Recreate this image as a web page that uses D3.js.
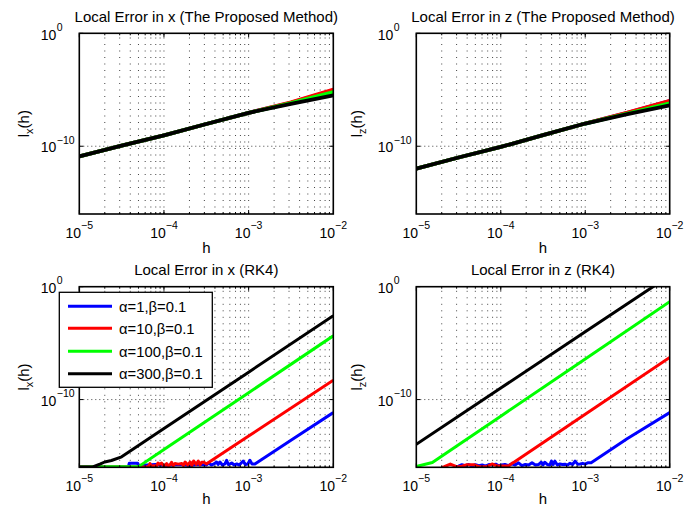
<!DOCTYPE html>
<html><head><meta charset="utf-8">
<script src="https://cdn.jsdelivr.net/npm/d3@7"></script>
<style>
body{margin:0;background:#fff}
svg{display:block}
text{font-family:"Liberation Sans",Arial,Helvetica,sans-serif;fill:#000}
</style>
</head><body>
<svg id="chart" width="686" height="508"></svg>
<script>
// ---------------- DATA (values are log10 exponents) ----------------
const legendLabels = ["α=1,β=0.1", "α=10,β=0.1", "α=100,β=0.1", "α=300,β=0.1"];
const seriesColors = ["#0000ff", "#ff0000", "#00ff00", "#000000"];
const xTickExps = [-5, -4, -3, -2];
const yTickExps = [0, -10];
const panelTitles = ["Local Error in x (The Proposed Method)", "Local Error in z (The Proposed Method)",
                     "Local Error in x (RK4)", "Local Error in z (RK4)"];
const panelYSub = ["x", "z", "x", "z"];

// Proposed method, x (top-left)
const pxH     = [-5, -4.5, -4, -3.5, -3, -2.5, -2];
const pxBlue  = [-10.89, -9.95, -9.03, -8.03, -7.04, -6.15, -5.05];
const pxRed   = [-10.89, -9.95, -9.03, -8.03, -7.04, -6.12, -4.98];
const pxGreen = [-10.89, -9.95, -9.03, -8.03, -7.04, -6.18, -5.2];
const pxBlack = [-10.89, -9.95, -9.03, -8.03, -7.04, -6.25, -5.5];

// Proposed method, z (top-right)
const pzH     = [-5, -4.5, -4, -3.5, -3, -2.5, -2];
const pzBlue  = [-11.98, -11.0, -10.06, -9.02, -7.99, -7.05, -6.0];
const pzRed   = [-11.98, -11.0, -10.06, -9.02, -7.99, -7.03, -5.98];
const pzGreen = [-11.98, -11.0, -10.06, -9.02, -7.99, -7.1, -6.21];
const pzBlack = [-11.98, -11.0, -10.06, -9.02, -7.99, -7.15, -6.39];

// RK4, x (bottom-left)
const rxBlueH = [-5, -4.42, -4.41, -4.31, -4.30, -4.2, -4.1, -4.0, -3.9, -3.8, -3.7, -3.6, -3.5, -3.47, -3.44, -3.41, -3.378, -3.36, -3.339, -3.31, -3.28, -3.26, -3.24, -3.22, -3.2, -3.17, -3.14, -3.11, -3.085, -3.064, -3.04, -3.01, -2.985, -2.96, -2.926, -2.5, -2.0];
const rxBlue  = [-15.97, -15.97, -15.65, -15.65, -15.85, -15.8, -15.75, -15.85, -15.8, -15.75, -15.85, -15.75, -15.8, -15.6, -15.8, -15.7, -15.53, -15.75, -15.53, -15.8, -15.7, -15.38, -15.75, -15.7, -15.62, -15.8, -15.7, -15.8, -15.6, -15.44, -15.75, -15.7, -15.38, -15.7, -15.7, -13.6, -11.15];
const rxRedH  = [-5, -4.2, -4.18, -4.165, -4.15, -4.12, -4.09, -4.07, -4.05, -4.03, -4.0, -3.985, -3.968, -3.95, -3.93, -3.91, -3.89, -3.87, -3.83, -3.79, -3.77, -3.75, -3.72, -3.69, -3.67, -3.65, -3.62, -3.595, -3.575, -3.555, -3.525, -3.5, -3.0, -2.0];
const rxRed   = [-15.97, -15.97, -15.9, -15.67, -15.9, -15.85, -15.9, -15.62, -15.75, -15.62, -15.9, -15.8, -15.67, -15.88, -15.8, -15.56, -15.85, -15.67, -15.72, -15.67, -15.85, -15.53, -15.8, -15.53, -15.85, -15.44, -15.75, -15.44, -15.8, -15.56, -15.56, -15.7, -13.23, -8.28];
const rxGreenH = [-5, -4.3, -4.0, -3.0, -2.0];
const rxGreen  = [-15.97, -15.94, -14.43, -9.39, -4.35];
const rxBlackH = [-5, -4.84, -4.75, -4.70, -4.62, -4.5, -4.0, -3.0, -2.0];
const rxBlack  = [-15.97, -15.97, -15.7, -15.53, -15.4, -15.07, -12.57, -7.57, -2.57];

// RK4, z (bottom-right)
const rzBlueH = [-4.54, -4.5, -4.46, -4.42, -4.38, -4.34, -4.3, -4.26, -4.22, -4.18, -4.14, -4.1, -4.06, -4.03, -3.99, -3.95, -3.91, -3.87, -3.83, -3.79, -3.75, -3.71, -3.67, -3.63, -3.59, -3.55, -3.52, -3.5, -3.48, -3.45, -3.42, -3.4, -3.38, -3.36, -3.33, -3.3, -3.27, -3.24, -3.21, -3.18, -3.15, -3.12, -3.09, -3.06, -3.03, -3.0, -2.97, -2.93, -2.5, -2.0];
const rzBlue  = [-15.97, -15.9, -15.77, -15.85, -15.75, -15.9, -15.77, -15.85, -15.8, -15.9, -15.75, -15.8, -15.72, -15.85, -15.8, -15.75, -15.85, -15.7, -15.8, -15.6, -15.85, -15.75, -15.8, -15.6, -15.8, -15.75, -15.55, -15.8, -15.55, -15.75, -15.8, -15.45, -15.75, -15.45, -15.8, -15.7, -15.75, -15.72, -15.8, -15.65, -15.75, -15.45, -15.72, -15.7, -15.65, -15.72, -15.6, -15.6, -13.45, -11.15];
const rzRedH  = [-4.70, -4.675, -4.597, -4.518, -4.459, -4.4, -4.32, -4.261, -4.163, -4.104, -4.044, -3.906, -3.867, -3.835, -3.0, -2.0];
const rzRed   = [-16.0, -15.97, -15.71, -15.97, -15.9, -15.77, -15.77, -15.95, -15.93, -15.71, -15.88, -15.88, -15.65, -15.5, -11.29, -6.27];
const rzGreenH = [-5, -4.81, -4.0, -3.0, -2.0];
const rzGreen  = [-15.93, -15.58, -11.47, -6.40, -1.33];
const rzBlackH = [-5, -4.0, -3.0, -2.0];
const rzBlack  = [-13.96, -8.98, -4.0, 0.98];

// ---------------- BUILD ----------------
const zip = (h, v) => h.map((d, i) => [d, v[i]]);
const panelSeries = [
  [zip(pxH, pxBlue), zip(pxH, pxRed), zip(pxH, pxGreen), zip(pxH, pxBlack)],
  [zip(pzH, pzBlue), zip(pzH, pzRed), zip(pzH, pzGreen), zip(pzH, pzBlack)],
  [zip(rxBlueH, rxBlue), zip(rxRedH, rxRed), zip(rxGreenH, rxGreen), zip(rxBlackH, rxBlack)],
  [zip(rzBlueH, rzBlue), zip(rzRedH, rzRed), zip(rzGreenH, rzGreen), zip(rzBlackH, rzBlack)]
];

const layout = [
  {L: 79.3, R: 333.3, T: 33.3, B: 214, ylx: 29, hy: 253},
  {L: 416.3, R: 669.7, T: 33.3, B: 214, ylx: 362, hy: 253},
  {L: 79.3, R: 333.3, T: 286.7, B: 467.3, ylx: 29, hy: 503.5},
  {L: 416.3, R: 669.7, T: 286.7, B: 467.3, ylx: 362, hy: 503.5}
];

const svg = d3.select("#chart");
const defs = svg.append("defs");
const minus = "\u2212";

layout.forEach((p, pi) => {
  const x = d3.scaleLog().domain([1e-5, 1e-2]).range([p.L, p.R]);
  const y = d3.scaleLog().domain([1e-16, 1]).range([p.B, p.T]);
  const g = svg.append("g");

  // grid (dotted)
  const gx = [];
  for (let k = -5; k <= -3; k++) for (let m = 1; m <= 9; m++) { const v = m * Math.pow(10, k); if (v > 1e-5 && v < 1e-2) gx.push(v); }
  g.selectAll(".gx").data(gx).enter().append("line")
    .attr("x1", d => x(d)).attr("x2", d => x(d)).attr("y1", p.B).attr("y2", p.T)
    .attr("stroke", "#444").attr("stroke-width", 1).attr("stroke-dasharray", "1,5.5");
  g.selectAll(".gy").data([1e-10]).enter().append("line")
    .attr("x1", p.L).attr("x2", p.R).attr("y1", d => y(d)).attr("y2", d => y(d))
    .attr("stroke", "#444").attr("stroke-width", 1).attr("stroke-dasharray", "1,3");

  // clip
  defs.append("clipPath").attr("id", "clip" + pi).append("rect")
    .attr("x", p.L).attr("y", p.T).attr("width", p.R - p.L).attr("height", p.B - p.T);

  const line = d3.line().x(d => x(Math.pow(10, d[0]))).y(d => y(Math.pow(10, d[1])));
  g.append("g").attr("clip-path", "url(#clip" + pi + ")")
    .selectAll("path").data(panelSeries[pi]).enter().append("path")
    .attr("d", line).attr("fill", "none")
    .attr("stroke", (d, i) => seriesColors[i]).attr("stroke-width", pi < 2 ? 3.8 : 3)
    .attr("stroke-linejoin", "round");

  // ticks inside
  const tk = g.append("g").attr("stroke", "#000").attr("stroke-width", 1);
  xTickExps.forEach(e => {
    const xx = x(Math.pow(10, e));
    tk.append("line").attr("x1", xx).attr("x2", xx).attr("y1", p.B).attr("y2", p.B - 4);
    tk.append("line").attr("x1", xx).attr("x2", xx).attr("y1", p.T).attr("y2", p.T + 4);
  });
  gx.forEach(v => {
    const xx = x(v);
    tk.append("line").attr("x1", xx).attr("x2", xx).attr("y1", p.B).attr("y2", p.B - 2);
    tk.append("line").attr("x1", xx).attr("x2", xx).attr("y1", p.T).attr("y2", p.T + 2);
  });
  yTickExps.forEach(e => {
    const yy = y(Math.pow(10, e));
    tk.append("line").attr("x1", p.L).attr("x2", p.L + 4).attr("y1", yy).attr("y2", yy);
    tk.append("line").attr("x1", p.R).attr("x2", p.R - 4).attr("y1", yy).attr("y2", yy);
  });

  // frame
  g.append("rect").attr("x", p.L).attr("y", p.T).attr("width", p.R - p.L).attr("height", p.B - p.T)
    .attr("fill", "none").attr("stroke", "#000").attr("stroke-width", 1.6);

  // x tick labels
  xTickExps.forEach(e => {
    const t = g.append("text").attr("x", x(Math.pow(10, e))).attr("y", p.B + 23.5)
      .attr("text-anchor", "middle").style("font-size", "14px");
    t.append("tspan").text("10");
    t.append("tspan").attr("dy", -8.5).style("font-size", "10.5px").text(minus + (-e));
  });
  // y tick labels
  yTickExps.forEach(e => {
    const yy = y(Math.pow(10, e));
    g.append("text").attr("x", p.L - 23).attr("y", yy + 6.2).attr("text-anchor", "end")
      .style("font-size", "14px").text("10");
    g.append("text").attr("x", p.L - 22.5).attr("y", yy - 2.5).attr("text-anchor", "start")
      .style("font-size", "10.5px").text(e === 0 ? "0" : minus + (-e));
  });

  // title
  g.append("text").attr("x", (p.L + p.R) / 2).attr("y", p.T - 11.5).attr("text-anchor", "middle")
    .style("font-size", "15px").text(panelTitles[pi]);
  // x label
  g.append("text").attr("x", (p.L + p.R) / 2).attr("y", p.hy).attr("text-anchor", "middle")
    .style("font-size", "15px").text("h");
  // y label
  const yl = g.append("text").attr("transform", `translate(${p.ylx},${(p.T + p.B) / 2}) rotate(-90)`)
    .attr("text-anchor", "middle").style("font-size", "15px");
  yl.append("tspan").text("l");
  yl.append("tspan").attr("dy", 4).style("font-size", "11px").text(panelYSub[pi]);
  yl.append("tspan").attr("dy", -4).text("(h)");
});

// legend in bottom-left panel
const lg = svg.append("g");
lg.append("rect").attr("x", 59.3).attr("y", 292.3).attr("width", 153).attr("height", 95)
  .attr("fill", "#fff").attr("stroke", "#000").attr("stroke-width", 1.3);
const rowY = [306.3, 328.3, 351.3, 373.8];
legendLabels.forEach((lab, i) => {
  lg.append("line").attr("x1", 68).attr("x2", 112).attr("y1", rowY[i]).attr("y2", rowY[i])
    .attr("stroke", seriesColors[i]).attr("stroke-width", 3);
  lg.append("text").attr("x", 119).attr("y", rowY[i] + 5.2).style("font-size", "14.8px").text(lab);
});
</script>
</body></html>
